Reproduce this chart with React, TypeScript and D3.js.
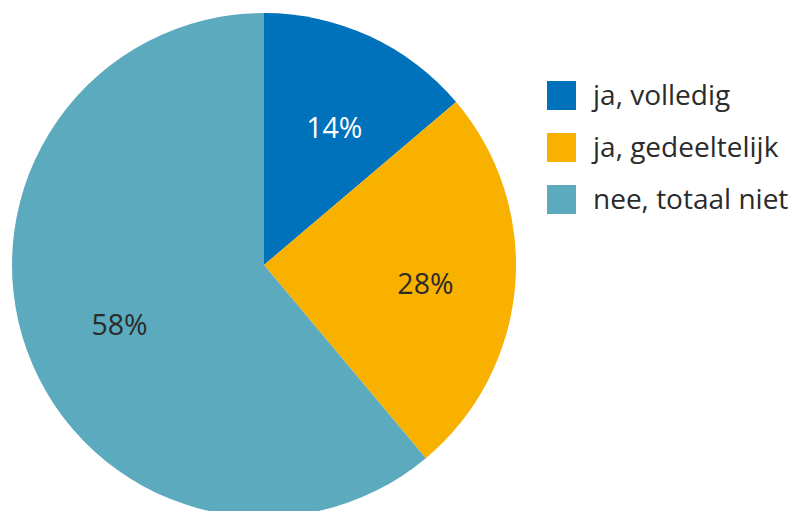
import React from "react";
import * as d3 from "d3";

const categories = ["ja, volledig", "ja, gedeeltelijk", "nee, totaal niet"];
const values = [13.8, 25.1, 61.1];
const valueLabels = ["14%", "28%", "58%"];
const colors = ["#0072BC", "#F9B100", "#5BAABD"];
const labelColors = ["#FFFFFF", "#2B2B2B", "#2B2B2B"];

const W = 795;
const H = 511;
const cx = 264;
const cy = 265;
const R = 252;
const labelR = 158;

export default function App() {
  const pie = d3.pie<number>().sort(null).value((d) => d);
  const arcs = pie(values);
  const arc = d3.arc<d3.PieArcDatum<number>>().innerRadius(0).outerRadius(R);
  const labelArc = d3
    .arc<d3.PieArcDatum<number>>()
    .innerRadius(labelR)
    .outerRadius(labelR);
  const font = "'Open Sans', 'Noto Sans', sans-serif";
  return (
    <svg
      width={W}
      height={H}
      style={{ position: "absolute", left: 0, top: 0, background: "#fff" }}
    >
      <g transform={`translate(${cx},${cy})`}>
        {arcs.map((a, i) => (
          <path key={i} d={arc(a) || ""} fill={colors[i]} />
        ))}
        {arcs.map((a, i) => {
          const [x, y] = labelArc.centroid(a);
          return (
            <text
              key={"l" + i}
              x={x + 4}
              y={y + 5}
              textAnchor="middle"
              dominantBaseline="central"
              fontFamily={font}
              fontSize={28.5}
              fill={labelColors[i]}
            >
              {valueLabels[i]}
            </text>
          );
        })}
      </g>
      <g>
        {categories.map((c, i) => (
          <g key={c} transform={`translate(547,${81 + i * 52})`}>
            <rect width={29} height={29} fill={colors[i]} />
            <text
              x={46}
              y={24}
              fontFamily={font}
              fontSize={28}
              fill="#2B2B2B"
            >
              {c}
            </text>
          </g>
        ))}
      </g>
    </svg>
  );
}
